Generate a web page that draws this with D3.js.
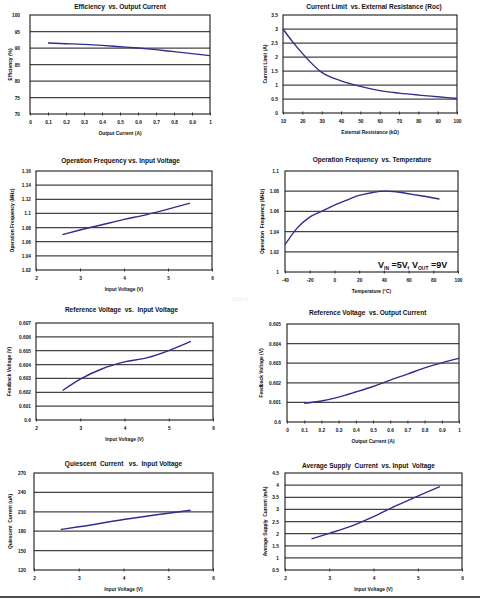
<!DOCTYPE html>
<html>
<head>
<meta charset="utf-8">
<script src="https://cdn.jsdelivr.net/npm/d3@7"></script>
<style>
  body { margin: 0; background: #fff; }
  svg { display: block; font-family: "Liberation Sans", Arial, sans-serif; }
</style>
</head>
<body>
<svg width="480" height="599"></svg>
<script>
var svg = d3.select('svg');

// ---- data ----
var effX = [0.1, 0.2, 0.3, 0.4, 0.5, 0.6, 0.7, 0.8, 0.9, 1.0];
var effY = [91.5, 91.3, 91.1, 90.8, 90.4, 90.0, 89.5, 88.9, 88.3, 87.7];

var ilimX = [10, 15, 20, 30, 40, 50, 60, 70, 80, 90, 100];
var ilimY = [3.0, 2.54, 2.13, 1.45, 1.15, 0.95, 0.80, 0.71, 0.64, 0.58, 0.52];

var fvinX = [2.6, 3.0, 3.5, 4.0, 4.5, 5.0, 5.5];
var fvinY = [1.070, 1.0765, 1.084, 1.0915, 1.098, 1.106, 1.1145];

var ftempX = [-40, -30, -20, -10, 0, 10, 20, 30, 40, 50, 60, 70, 85];
var ftempY = [1.027, 1.0437, 1.0543, 1.0603, 1.0662, 1.0712, 1.0758, 1.0785, 1.0801, 1.0795, 1.0775, 1.0755, 1.0722];

var vrefVinX = [2.6, 3.0, 3.5, 3.7, 4.0, 4.5, 5.0, 5.5];
var vrefVinY = [0.60213, 0.60295, 0.60370, 0.60392, 0.60419, 0.60448, 0.60501, 0.60567];

var vrefIoX = [0.1, 0.2, 0.3, 0.4, 0.5, 0.6, 0.7, 0.8, 0.9, 1.0];
var vrefIoY = [0.60095, 0.60107, 0.60127, 0.60153, 0.60181, 0.60214, 0.60244, 0.60276, 0.60302, 0.60325];

var iqX = [2.6, 3.0, 4.0, 5.0, 5.5];
var iqY = [182.7, 186.8, 198.0, 207.8, 212.4];

var isupX = [2.6, 3.0, 3.5, 4.0, 4.5, 5.0, 5.5];
var isupY = [1.78, 2.01, 2.31, 2.70, 3.14, 3.55, 3.94];

// tick values
var ticksIo = [0, 0.1, 0.2, 0.3, 0.4, 0.5, 0.6, 0.7, 0.8, 0.9, 1];
var ticksRoc = [10, 20, 30, 40, 50, 60, 70, 80, 90, 100];
var ticksVin = [2, 3, 4, 5, 6];
var ticksTemp = [-40, -20, 0, 20, 40, 60, 80, 100];
var ticksEff = [70, 75, 80, 85, 90, 95, 100];
var ticksIlim = [0, 0.5, 1, 1.5, 2, 2.5, 3, 3.5];
var ticksFvin = [1.02, 1.04, 1.06, 1.08, 1.1, 1.12, 1.14, 1.16];
var ticksFtemp = [1, 1.02, 1.04, 1.06, 1.08, 1.1];
var ticksVref7 = [0.6, 0.601, 0.602, 0.603, 0.604, 0.605, 0.606, 0.607];
var ticksVref5 = [0.6, 0.601, 0.602, 0.603, 0.604, 0.605];
var ticksIq = [120, 150, 180, 210, 240, 270];
var ticksIsup = [0.5, 1, 1.5, 2, 2.5, 3, 3.5, 4, 4.5];

// panel layout (plot box + label spots)
var panels = [
  {l: 30, r: 210, t: 15, b: 114, xs: effX, ys: effY, xt: ticksIo, yt: ticksEff,
   title: 'Efficiency  vs. Output Current', tx: 120, ty: 9.3,
   xlab: 'Output Current (A)', ylab: 'Efficiency (%)', ylx: 10, ygap: 10},
  {l: 283, r: 457, t: 15, b: 113, xs: ilimX, ys: ilimY, xt: ticksRoc, yt: ticksIlim,
   title: 'Current Limit  vs. External Resistance (Roc)', tx: 374, ty: 9,
   xlab: 'External Resistance (k\u03A9)', ylab: 'Current Limit (A)', ylx: 265, ygap: 5},
  {l: 36, r: 212, t: 171, b: 270, xs: fvinX, ys: fvinY, xt: ticksVin, yt: ticksFvin,
   title: 'Operation Frequency vs. Input Voltage', tx: 120.5, ty: 163,
   xlab: 'Input Voltage (V)', ylab: 'Operation Frequency (MHz)', ylx: 12, ygap: 5},
  {l: 285, r: 458, t: 171, b: 272, xs: ftempX, ys: ftempY, xt: ticksTemp, yt: ticksFtemp,
   title: 'Operation Frequency  vs. Temperature', tx: 372, ty: 161.6,
   xlab: 'Temperature (\u00B0C)', ylab: 'Operation  Frequency (MHz)', ylx: 262, ygap: 6},
  {l: 36, r: 213, t: 323, b: 420, xs: vrefVinX, ys: vrefVinY, xt: ticksVin, yt: ticksVref7,
   title: 'Reference Voltage  vs.  Input Voltage', tx: 121.5, ty: 312.3,
   xlab: 'Input Voltage (V)', ylab: 'Feedback Voltage (V)', ylx: 9.5, ygap: 5},
  {l: 287, r: 459, t: 324, b: 422, xs: vrefIoX, ys: vrefIoY, xt: ticksIo, yt: ticksVref5,
   title: 'Reference Voltage  vs. Output Current', tx: 367.7, ty: 314.6,
   xlab: 'Output Current (A)', ylab: 'Feedback Voltage (V)', ylx: 261, ygap: 6},
  {l: 34, r: 213, t: 473, b: 570, xs: iqX, ys: iqY, xt: ticksVin, yt: ticksIq,
   title: 'Quiescent  Current   vs.  Input Voltage', tx: 123.5, ty: 466.3,
   xlab: 'Input Voltage (V)', ylab: 'Quiescent  Current (uA)', ylx: 10, ygap: 8},
  {l: 285, r: 462, t: 473, b: 570, xs: isupX, ys: isupY, xt: ticksVin, yt: ticksIsup,
   title: 'Average Supply  Current  vs. Input  Voltage', tx: 368.5, ty: 467.6,
   xlab: 'Input Voltage (V)', ylab: 'Average Supply  Current (mA)', ylx: 265, ygap: 6}
];

function fmt(v) { return String(+v.toFixed(4)); }

panels.forEach(function(p) {
  var x = d3.scaleLinear().domain(d3.extent(p.xt)).range([p.l, p.r]);
  var y = d3.scaleLinear().domain(d3.extent(p.yt)).range([p.b, p.t]);
  var g = svg.append('g');

  // gridlines
  g.selectAll('line.grid')
    .data(p.yt.slice(1, -1))
    .enter()
    .append('line')
    .attr('x1', p.l).attr('x2', p.r)
    .attr('y1', function(d) { return y(d); })
    .attr('y2', function(d) { return y(d); })
    .attr('stroke', '#444')
    .attr('stroke-width', 1.25);

  // plot frame
  g.append('rect')
    .attr('x', p.l).attr('y', p.t)
    .attr('width', p.r - p.l).attr('height', p.b - p.t)
    .attr('fill', 'none')
    .attr('stroke', '#1a1a1a')
    .attr('stroke-width', 1.1);

  // x axis
  var ax = g.append('g')
    .attr('transform', 'translate(0,' + p.b + ')')
    .call(d3.axisBottom(x).tickValues(p.xt).tickFormat(fmt).tickSize(1.5).tickPadding(5));
  ax.select('.domain').remove();
  ax.selectAll('line').attr('stroke', '#333').attr('transform', 'translate(0,-1.5)').attr('y2', 3);
  ax.selectAll('text')
    .attr('font-size', 4.8).attr('font-weight', 'bold').attr('fill', '#111')
    .attr('font-family', '"Liberation Sans", Arial, sans-serif');

  // y axis
  var ay = g.append('g')
    .attr('transform', 'translate(' + p.l + ',0)')
    .call(d3.axisLeft(y).tickValues(p.yt).tickFormat(fmt).tickSize(0).tickPadding(p.ygap));
  ay.select('.domain').remove();
  ay.selectAll('text')
    .attr('font-size', 4.8).attr('font-weight', 'bold').attr('fill', '#111')
    .attr('font-family', '"Liberation Sans", Arial, sans-serif');

  // curve
  var pts = p.xs.map(function(d, i) { return [d, p.ys[i]]; });
  g.append('path')
    .datum(pts)
    .attr('fill', 'none')
    .attr('stroke', '#2e2e8f')
    .attr('stroke-width', 1.4)
    .attr('d', d3.line()
      .x(function(d) { return x(d[0]); })
      .y(function(d) { return y(d[1]); })
      .curve(d3.curveMonotoneX));

  // titles
  g.append('text')
    .attr('x', p.tx).attr('y', p.ty)
    .attr('text-anchor', 'middle')
    .attr('font-size', 6.5).attr('font-weight', 'bold').attr('fill', '#111')
    .style('white-space', 'pre')
    .text(p.title);

  g.append('text')
    .attr('x', (p.l + p.r) / 2).attr('y', p.b + 21)
    .attr('text-anchor', 'middle')
    .attr('font-size', 4.9).attr('font-weight', 'bold').attr('fill', '#111')
    .text(p.xlab);

  g.append('text')
    .attr('transform', 'translate(' + (p.ylx + 1.7) + ',' + ((p.t + p.b) / 2) + ') rotate(-90)')
    .attr('text-anchor', 'middle')
    .attr('font-size', 4.9).attr('font-weight', 'bold').attr('fill', '#111')
    .style('white-space', 'pre')
    .text(p.ylab);
});

// test condition note on the temperature chart
var note = svg.append('text')
  .attr('x', 378).attr('y', 268)
  .attr('font-size', 9).attr('font-weight', 600).attr('fill', '#111');
note.append('tspan').text('V');
note.append('tspan').attr('font-size', 5).attr('dy', 1.5).text('IN');
note.append('tspan').attr('dy', -1.5).text(' =5V, V');
note.append('tspan').attr('font-size', 5).attr('dy', 1.5).text('OUT');
note.append('tspan').attr('dy', -1.5).text(' =9V');

// faint watermark
svg.append('text')
  .attr('x', 240).attr('y', 301)
  .attr('text-anchor', 'middle')
  .attr('font-size', 5).attr('fill', '#eee')
  .text('ICMKW');

// page rule at the bottom
svg.append('line')
  .attr('x1', 0).attr('x2', 480)
  .attr('y1', 597).attr('y2', 597)
  .attr('stroke', '#111').attr('stroke-width', 1.5);
</script>
</body>
</html>
